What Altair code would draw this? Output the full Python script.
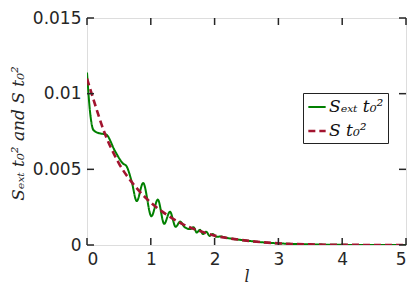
import altair as alt
import pandas as pd

# Green curve S_ext t0^2
l_ext = [0.0, 0.05, 0.10, 0.18, 0.30, 0.44, 0.56, 0.62, 0.70, 0.78, 0.88, 1.01, 1.11, 1.21, 1.30,
         1.39, 1.46, 1.53, 1.62, 1.67, 1.72, 1.77, 1.82, 1.87, 1.92, 1.97, 2.03, 2.10, 2.20, 2.30,
         2.40, 2.50, 2.75, 3.0, 3.5, 4.0, 4.5, 5.0]
s_ext = [0.0114, 0.0087, 0.0076, 0.0074, 0.0073, 0.0062, 0.0054, 0.0052, 0.0042, 0.0029, 0.0041,
         0.0019, 0.0030, 0.0014, 0.0022, 0.0012, 0.00155, 0.00118, 0.00105, 0.00118, 0.00082,
         0.00100, 0.00072, 0.00088, 0.00060, 0.00072, 0.00054, 0.00056, 0.00046, 0.00040,
         0.00034, 0.00029, 0.00018, 0.00011, 0.00004, 0.00001, 0.000003, 0.000001]

# Dashed curve S t0^2
l_s = [0.0, 0.125, 0.25, 0.5, 0.75, 1.0, 1.25, 1.5, 1.75, 2.0, 2.25, 2.5, 2.75, 3.0, 3.5, 4.0, 4.5, 5.0]
s_s = [0.0110, 0.0093, 0.0077, 0.0054, 0.0039, 0.0028, 0.0020, 0.00138, 0.00095, 0.00062, 0.00043,
       0.00029, 0.00018, 0.00011, 0.00004, 0.00001, 0.000003, 0.000001]

names = ["Sₑₓₜ t₀²", "S t₀²"]
colors = ["#008000", "#A2142F"]

x_ticks = [0, 1, 2, 3, 4, 5]
y_ticks = [0, 0.005, 0.01, 0.015]

W, H = 319, 227
TL = 7

df = pd.concat([
    pd.DataFrame({"l": l_ext, "v": s_ext, "s": names[0], "o": 0}),
    pd.DataFrame({"l": l_s, "v": s_s, "s": names[1], "o": 1}),
])

xs = alt.Scale(domain=[0, 5], nice=False, zero=False)
ys = alt.Scale(domain=[0, 0.015], nice=False)

tick_font = "DejaVu Sans"
ink = "#262626"

lines = alt.Chart(df).mark_line(interpolate="monotone", clip=True).encode(
    x=alt.X("l:Q", scale=xs, axis=alt.Axis(
        values=x_ticks, format="~g", title="l", titleFont="DejaVu Serif", titleFontStyle="italic",
        titleFontWeight="normal", titleFontSize=16, titleColor=ink,
        titleX=W / 2, titleY=31, titleBaseline="middle",
        labelFont=tick_font, labelFontSize=17, labelColor=ink, labelPadding=6,
        ticks=False, domain=False, grid=False)),
    y=alt.Y("v:Q", scale=ys, axis=alt.Axis(
        values=y_ticks, format=".3~f", title="Sₑₓₜ t₀² and S t₀²",
        titleFont="DejaVu Serif", titleFontStyle="italic", titleFontWeight="normal",
        titleFontSize=17, titleColor=ink, titleAngle=-90,
        titleX=-69, titleY=115, titleAlign="center", titleBaseline="middle",
        labelFont=tick_font, labelFontSize=17, labelColor=ink, labelPadding=6,
        ticks=False, domain=False, grid=False)),
    color=alt.Color("s:N", scale=alt.Scale(domain=names, range=colors), legend=alt.Legend(
        title=None, orient="none", legendX=216, legendY=75,
        labelFont="DejaVu Serif", labelFontStyle="italic", labelFontSize=17, labelColor="#111",
        symbolType="stroke", symbolSize=300, symbolStrokeWidth=2.2,
        strokeColor="#222", fillColor="white", padding=4, rowPadding=6, labelOffset=2)),
    strokeDash=alt.StrokeDash("s:N", scale=alt.Scale(domain=names, range=[[1, 0], [7, 4]]),
                              legend=None),
    strokeWidth=alt.StrokeWidth("s:N", scale=alt.Scale(domain=names, range=[2.0, 2.6]), legend=None),
    order="o:Q",
)

green = lines.transform_filter(alt.datum.o == 0)
red = lines.transform_filter(alt.datum.o == 1)

xt = pd.DataFrame({"t": x_ticks})
yt = pd.DataFrame({"t": y_ticks})

bx = alt.Chart(xt).mark_rule(color=ink, strokeWidth=1.5).encode(
    x=alt.X("t:Q", scale=xs), y=alt.value(H), y2=alt.value(H - TL))
tx = alt.Chart(xt).mark_rule(color=ink, strokeWidth=1.5).encode(
    x=alt.X("t:Q", scale=xs), y=alt.value(0), y2=alt.value(TL))
ly = alt.Chart(yt).mark_rule(color=ink, strokeWidth=1.5).encode(
    y=alt.Y("t:Q", scale=ys), x=alt.value(0), x2=alt.value(TL))
ry = alt.Chart(yt).mark_rule(color=ink, strokeWidth=1.5).encode(
    y=alt.Y("t:Q", scale=ys), x=alt.value(W), x2=alt.value(W - TL))

chart = alt.layer(green, red, bx, tx, ly, ry).properties(
    width=W, height=H,
    autosize=alt.AutoSizeParams(type="none"),
    padding={"left": 79, "top": 10, "right": 1, "bottom": 41},
).configure_view(stroke=ink, strokeWidth=2).configure(background="white")

chart.save("out.html", embed_options={"renderer": "svg", "actions": False})
